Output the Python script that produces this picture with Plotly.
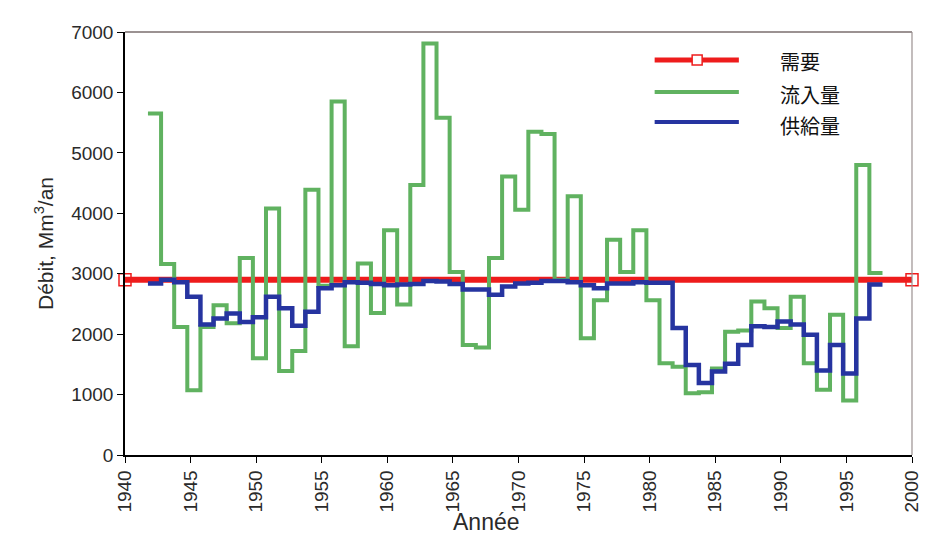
import plotly.graph_objects as go

# Hydrological years (the year runs from October, hence the quarter-year shift)
years = list(range(1942, 1998))
HYDRO_SHIFT = -0.25

# Annual inflow (apports), Mm3/an
inflow = [5650, 3160, 2120, 1070, 2120, 2480, 2180, 3260, 1600, 4080,
          1390, 1720, 4390, 2800, 5850, 1800, 3170, 2350, 3720, 2490,
          4470, 6810, 5580, 3030, 1820, 1780, 3260, 4610, 4060, 5350,
          5310, 2900, 4280, 1930, 2560, 3560, 3030, 3720, 2560, 1520,
          1460, 1020, 1040, 1430, 2040, 2060, 2540, 2430, 2100, 2620,
          1520, 1080, 2320, 900, 4800, 3010]

# Annual supply (fourniture), Mm3/an
supply = [2840, 2900, 2860, 2620, 2160, 2260, 2340, 2200, 2280, 2620,
          2430, 2140, 2370, 2760, 2810, 2860, 2850, 2830, 2810, 2820,
          2830, 2880, 2870, 2830, 2740, 2740, 2650, 2790, 2840, 2850,
          2880, 2880, 2860, 2810, 2760, 2840, 2840, 2860, 2850, 2850,
          2100, 1490, 1190, 1380, 1510, 1820, 2130, 2120, 2210, 2160,
          1990, 1400, 1820, 1350, 2260, 2820]

# Constant demand over the whole period
demand_years = [1940, 2000]
demand = [2900, 2900]

series_names = ["需要", "流入量", "供給量"]
RED = "rgb(238,28,28)"
GREEN = "rgb(96,178,96)"
BLUE = "rgb(38,52,160)"
FONT = "Liberation Sans, Arial, sans-serif"
TEXT_COLOR = "#2a2a2a"


def step_xy(yrs, vals):
    """Edges of yearly steps: each value holds for one full year."""
    xs = [y + HYDRO_SHIFT for y in yrs] + [yrs[-1] + 1 + HYDRO_SHIFT]
    ys = list(vals) + [vals[-1]]
    return xs, ys


fig = go.Figure()

fig.add_trace(go.Scatter(
    x=demand_years, y=demand, mode="lines+markers", name=series_names[0],
    line=dict(color=RED, width=6),
    marker=dict(symbol="square-open", size=12, color=RED, line=dict(width=1.5)),
    showlegend=False, cliponaxis=False))

gx, gy = step_xy(years, inflow)
fig.add_trace(go.Scatter(
    x=gx, y=gy, mode="lines", name=series_names[1], line_shape="hv",
    line=dict(color=GREEN, width=4), showlegend=False))

bx, by = step_xy(years, supply)
fig.add_trace(go.Scatter(
    x=bx, y=by, mode="lines", name=series_names[2], line_shape="hv",
    line=dict(color=BLUE, width=4.5), showlegend=False))

# Legend block in the upper right of the plotting area
legend_rows = [(0.934, RED), (0.858, GREEN), (0.787, BLUE)]
text_rows = [0.930, 0.853, 0.778]
shapes = []
annotations = []
for (ly, col), ty, name in zip(legend_rows, text_rows, series_names):
    shapes.append(dict(type="line", xref="paper", yref="paper",
                       x0=0.673, x1=0.780, y0=ly, y1=ly,
                       line=dict(color=col, width=5 if col == RED else 4)))
    annotations.append(dict(xref="paper", yref="paper", x=0.830, y=ty,
                            text=name, showarrow=False, xanchor="left",
                            yanchor="middle",
                            font=dict(family="Noto Sans CJK JP", size=20,
                                      color="#111")))
shapes.append(dict(type="rect", xref="paper", yref="paper",
                   xsizemode="pixel", ysizemode="pixel",
                   xanchor=0.727, yanchor=0.934,
                   x0=-5, x1=5, y0=-5, y1=5,
                   line=dict(color=RED, width=1.5), fillcolor="white"))
# Thin frame on the top and right sides of the plotting area
shapes.append(dict(type="line", xref="paper", yref="paper", x0=0, x1=1,
                   y0=1, y1=1, line=dict(color="#7a6e6e", width=1.5)))
shapes.append(dict(type="line", xref="paper", yref="paper", x0=1, x1=1,
                   y0=0, y1=1, line=dict(color="#9a9090", width=1.2)))

# X-axis title, set slightly left of the axis centre
annotations.append(dict(xref="paper", yref="paper", x=0.459, y=-0.158,
                        text="Année", showarrow=False, xanchor="center",
                        yanchor="middle",
                        font=dict(family=FONT, size=23, color=TEXT_COLOR)))

tick_font = dict(family=FONT, size=19, color=TEXT_COLOR)

fig.update_layout(
    width=932, height=534,
    margin=dict(l=125, r=10, t=32, b=79),
    paper_bgcolor="white", plot_bgcolor="white",
    shapes=shapes, annotations=annotations,
    xaxis=dict(range=[1940, 2000], dtick=5, tick0=1940, tickangle=-90,
               showgrid=False, zeroline=False, showline=True,
               linecolor="black", linewidth=1.5, ticks="outside",
               ticklen=6, tickcolor="black", tickfont=tick_font,
               ticklabeloverflow="allow"),
    yaxis=dict(range=[0, 7000], dtick=1000, showgrid=False, zeroline=False,
               showline=True, linecolor="black", linewidth=1.5,
               ticks="outside", ticklen=6, tickcolor="black",
               tickfont=tick_font,
               title=dict(text="Débit, Mm<sup>3</sup>/an", standoff=12,
                          font=dict(family=FONT, size=21, color=TEXT_COLOR))),
)

fig.write_html("out.html")
